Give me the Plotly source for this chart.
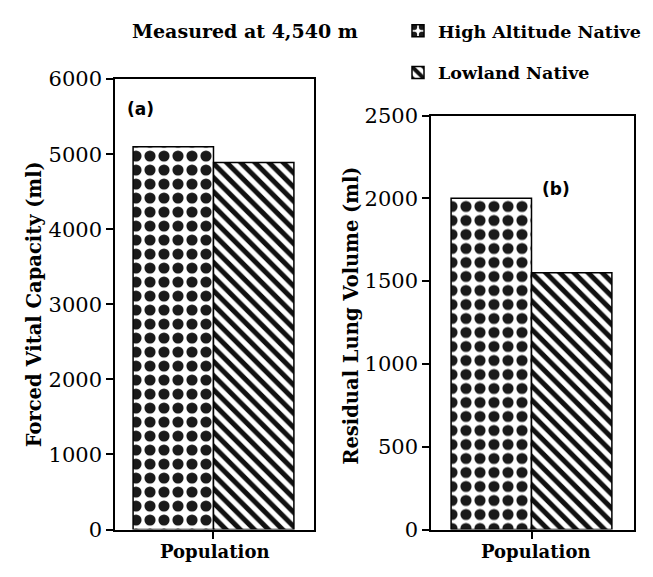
import plotly.graph_objects as go

# ---- data ----
groups = ["High Altitude Native", "Lowland Native"]
fvc_values = [5100, 4890]          # Forced Vital Capacity (ml)
rlv_values = [2000, 1550]          # Residual Lung Volume (ml)
fvc_ticks = [0, 1000, 2000, 3000, 4000, 5000, 6000]
rlv_ticks = [0, 500, 1000, 1500, 2000, 2500]
bar_pos = [0, 1]

SERIF = "DejaVu Serif"
patterns = [
    dict(shape=".", fgcolor="#1a1a1a", bgcolor="white", size=14, solidity=0.5,
         fillmode="replace", fgopacity=1),
    dict(shape="\\", fgcolor="#111111", bgcolor="white", size=10, solidity=0.5,
         fillmode="replace", fgopacity=1),
]

fig = go.Figure()
for i, g in enumerate(groups):
    fig.add_trace(go.Bar(
        x=[bar_pos[i]], y=[fvc_values[i]], width=1.0, name="<b>" + g + "</b>",
        marker=dict(color="white", pattern=patterns[i], line=dict(color="black", width=1.5)),
        xaxis="x", yaxis="y", showlegend=True, legendgroup=g))
for i, g in enumerate(groups):
    fig.add_trace(go.Bar(
        x=[bar_pos[i]], y=[rlv_values[i]], width=1.0, name="<b>" + g + "</b>",
        marker=dict(color="white", pattern=patterns[i], line=dict(color="black", width=1.5)),
        xaxis="x2", yaxis="y2", showlegend=False, legendgroup=g))

axis_common = dict(showline=True, linecolor="black", linewidth=1.5, mirror=True,
                   showgrid=False, zeroline=False, ticks="outside", tickcolor="black",
                   tickwidth=1.5)

fig.update_layout(
    width=653, height=577,
    margin=dict(l=0, r=0, t=0, b=0),
    paper_bgcolor="white", plot_bgcolor="white",
    barmode="overlay",
    xaxis=dict(domain=[115/653, 314/653], range=[-0.725, 1.75], tickvals=[0.5], ticktext=[""],
               ticklen=8, **axis_common),
    yaxis=dict(domain=[37/577, 507/577], range=[0, 6000], tickvals=fvc_ticks, ticklen=7,
               tickfont=dict(family=SERIF, size=21, color="black"), anchor="x", **axis_common),
    xaxis2=dict(domain=[431/653, 634/653], range=[-0.75, 1.775], tickvals=[0.5], ticktext=[""],
                ticklen=8, anchor="y2", **axis_common),
    yaxis2=dict(domain=[37/577, 469/577], range=[0, 2500], tickvals=rlv_ticks, ticklen=7,
                tickfont=dict(family=SERIF, size=21, color="black"), anchor="x2", **axis_common),
    legend=dict(x=398/653, y=1 - 1/577, xanchor="left", yanchor="top", xref="paper", yref="paper",
                font=dict(family=SERIF, size=17.5, color="black"), tracegroupgap=16,
                bgcolor="rgba(0,0,0,0)"),
    showlegend=True,
)

annots = [
    dict(text="<b>Measured at 4,540 m</b>", x=245, y=20, font=dict(family=SERIF, size=19)),
    dict(text="<b>Population</b>", x=214, y=563, font=dict(family=SERIF, size=18)),
    dict(text="<b>Population</b>", x=535, y=563, font=dict(family=SERIF, size=18)),
    dict(text="<b>Forced Vital Capacity (ml)</b>", x=34, y=305, textangle=-90, font=dict(family=SERIF, size=19.5)),
    dict(text="<b>Residual Lung Volume (ml)</b>", x=352, y=317, textangle=-90, font=dict(family=SERIF, size=19.5)),
    dict(text="<b>(a)</b>", x=140, y=101, font=dict(family="DejaVu Sans", size=17)),
    dict(text="<b>(b)</b>", x=556, y=185, font=dict(family="DejaVu Sans", size=17)),
]
for a in annots:
    fig.add_annotation(text=a["text"], x=a["x"] / 653, y=1 - a["y"] / 577, xref="paper", yref="paper",
                       showarrow=False, xanchor="center", yanchor="middle",
                       textangle=a.get("textangle", 0),
                       font=dict(color="black", **a["font"]))

fig.write_html("out.html")
